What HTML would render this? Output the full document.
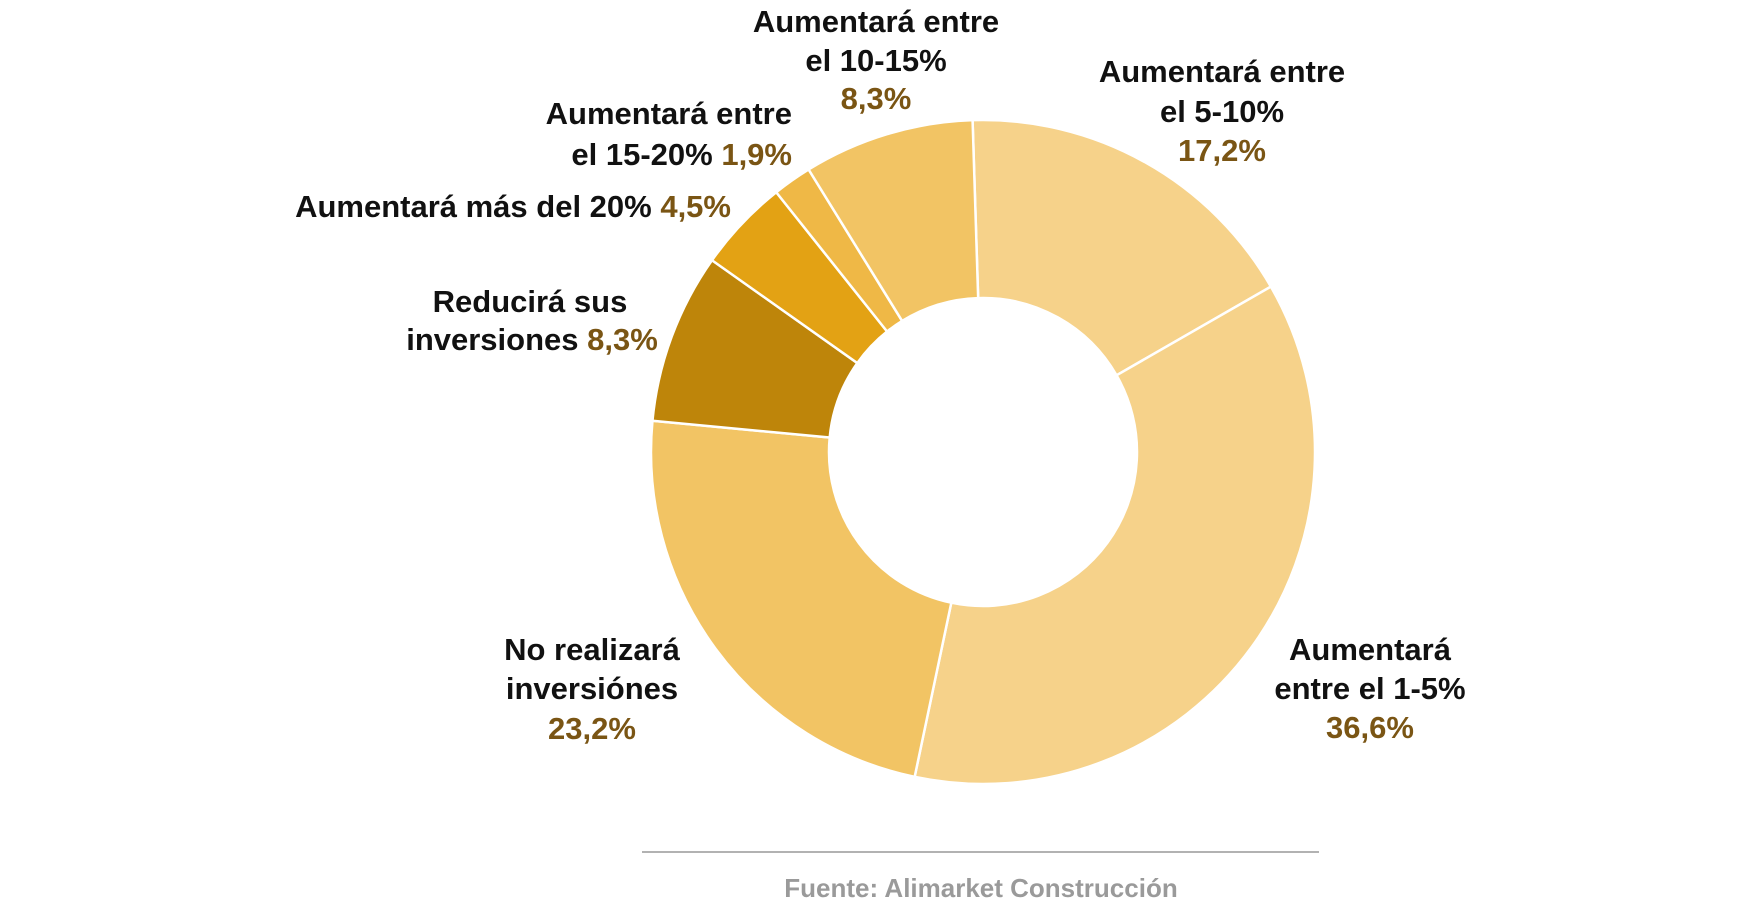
<!DOCTYPE html>
<html><head><meta charset="utf-8"><style>
html,body{margin:0;padding:0;background:#fff;}
svg{display:block;}
text{font-family:"Liberation Sans",sans-serif;font-weight:bold;font-size:31px;fill:#111;}
.v{fill:#7a5514;}
</style></head><body>
<svg id="s" width="1760" height="905" viewBox="0 0 1760 905">
<g id="pie"></g>
<g text-anchor="middle">
<text x="876" y="32">Aumentará entre</text>
<text x="876" y="71">el 10-15%</text>
<text x="876" y="109" class="v">8,3%</text>
<text x="1222" y="82">Aumentará entre</text>
<text x="1222" y="122">el 5-10%</text>
<text x="1222" y="161" class="v">17,2%</text>
<text x="530" y="312">Reducirá sus</text>
<text x="532" y="350">inversiones <tspan class="v">8,3%</tspan></text>
<text x="592" y="660">No realizará</text>
<text x="592" y="699">inversiónes</text>
<text x="592" y="739" class="v">23,2%</text>
<text x="1370" y="660">Aumentará</text>
<text x="1370" y="699">entre el 1-5%</text>
<text x="1370" y="738" class="v">36,6%</text>
</g>
<g text-anchor="end">
<text x="792" y="124">Aumentará entre</text>
<text x="792" y="165">el 15-20% <tspan class="v">1,9%</tspan></text>
<text x="731" y="217">Aumentará más del 20% <tspan class="v">4,5%</tspan></text>
</g>
<line x1="642" y1="852" x2="1319" y2="852" stroke="#999" stroke-width="1.5"/>
<text x="981" y="897" text-anchor="middle" style="fill:#9a9a9a;font-size:26px">Fuente: Alimarket Construcción</text>
</svg>
<script>
var cx=983,cy=452,R=332,r=154;
var d=[[17.2,"#f6d28a"],[36.6,"#f6d28a"],[23.2,"#f2c464"],[8.3,"#be850a"],[4.5,"#e3a214"],[1.9,"#efb846"],[8.3,"#f2c464"]];
var a=-1.8*Math.PI/180,g=document.getElementById("pie"),h="";
function p(rad,an){return (cx+rad*Math.sin(an)).toFixed(2)+","+(cy-rad*Math.cos(an)).toFixed(2);}
d.forEach(function(s){var b=a+s[0]/100*2*Math.PI;var l=(b-a)>Math.PI?1:0;
h+='<path d="M'+p(R,a)+' A'+R+','+R+' 0 '+l+' 1 '+p(R,b)+' L'+p(r,b)+' A'+r+','+r+' 0 '+l+' 0 '+p(r,a)+' Z" fill="'+s[1]+'" stroke="#fff" stroke-width="2.5"/>';a=b;});
g.innerHTML=h;
</script>
</body></html>
